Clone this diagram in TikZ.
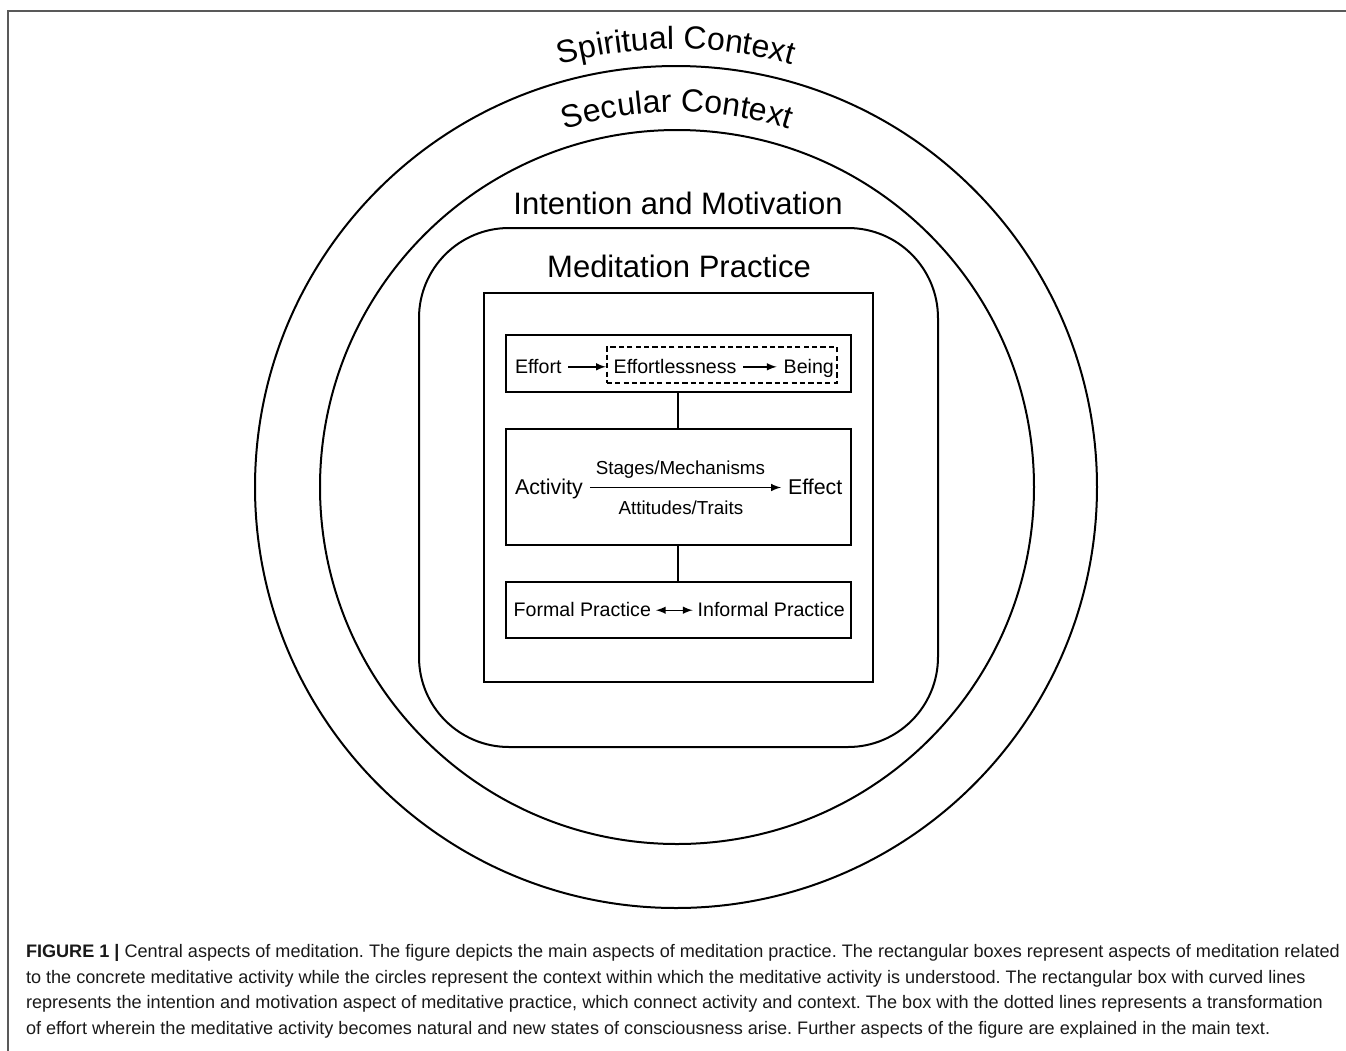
\documentclass[tikz,border=0pt]{standalone}
\usepackage{fontspec}
\setmainfont{Liberation Sans}
\usetikzlibrary{positioning}
\usetikzlibrary{arrows}
\usetikzlibrary{decorations.text}
\frenchspacing

\begin{document}
\begin{tikzpicture}[x=0.5pt, y=0.5pt, line width=1pt, >=latex,
    box/.style={draw, line width=0.9pt, minimum width=172.4pt, inner sep=0pt},
    dashbox/.style={draw, line width=0.8pt, dash pattern=on 2.6pt off 1.6pt, inner sep=0pt},
    word/.style={inner sep=3pt, text height=8.5pt, text depth=2pt, font=\fontsize{9.8}{11}\selectfont},
    small/.style={inner sep=0pt, font=\fontsize{9.4}{11}\selectfont},
    title/.style={inner sep=0pt, font=\fontsize{15.5}{18}\selectfont},
    capline/.style={anchor=base west, inner sep=0pt, text=black!90, font=\fontsize{9.05}{11}\selectfont},
    link/.style={->, line width=0.7pt}]
    \useasboundingbox (0,0) rectangle (1346,-1051);

    % Draw frame
    \draw[black!65, line width=1pt] (1346,-11) -- (8,-11) -- (8,-1051);

    % Draw context circles
    \draw (676,-487) circle (421);
    \draw (677,-487) circle (357);

    % Curved labels on the circles
    \path[decorate, decoration={text along path, text align=center,
        text={|\fontsize{16}{16}\selectfont|Spiritual Context}}]
        (676,-487) ++(150:438) arc (150:30:438);
    \path[decorate, decoration={text along path, text align=center,
        text={|\fontsize{16}{16}\selectfont|Secular Context}}]
        (677,-487) ++(150:375) arc (150:30:375);

    % Intention and motivation box
    \node[title] (intention) at (678,-203) {Intention and Motivation};
    \node[draw, rounded corners=45pt, minimum size=259.5pt] (motivation) at (678.5,-487.5) {};

    % Meditation practice box
    \node[title] (meditation) at (679,-266) {Meditation Practice};
    \node[draw, minimum size=194.5pt] (practice) at (678.5,-487.5) {};

    % Inner boxes
    \node[box, minimum height=28.35pt] (top) at (678.35,-363.35) {};
    \node[box, minimum height=57.85pt] (middle) at (678.35,-487.15) {};
    \node[box, minimum height=28.3pt] (bottom) at (678.35,-610) {};
    \draw[line width=0.9pt] (top) -- (middle);
    \draw[line width=0.9pt] (middle) -- (bottom);

    % Effort row
    \node[dashbox, minimum width=115pt, minimum height=18pt] (natural) at (721.7,-364.7) {};
    \node[word, anchor=base west] (effort) at (508,-373.3) {Effort};
    \node[word, anchor=base west] (effortless) at (606.7,-373.3) {Effortlessness};
    \node[word, anchor=base west] (being) at (776.7,-373.3) {Being};
    \draw[link] (effort.east) -- (effort.east -| natural.west);
    \draw[link] (effortless) -- (being);

    % Activity row
    \node[word, anchor=base west, font=\fontsize{10.7}{12}\selectfont] (activity) at (508,-494) {Activity};
    \node[word, anchor=base west, font=\fontsize{10.7}{12}\selectfont] (effect) at (781,-494) {Effect};
    \draw[link] (activity) -- (effect);
    \node[small, anchor=base] (stages) at (680.4,-474.3) {Stages/Mechanisms};
    \node[small, anchor=base] (attitudes) at (680.9,-514.3) {Attitudes/Traits};

    % Practice row
    \node[word, anchor=base west, inner sep=2pt] (formal) at (508.7,-616.7) {Formal Practice};
    \node[word, anchor=base west, inner sep=2pt] (informal) at (692.7,-616.7) {Informal Practice};
    \draw[link, <->] (formal) -- (informal);

    % Caption
    \node[capline] (cap1) at (25,-957) {\textbf{FIGURE 1 |} Central aspects of meditation. The figure depicts the main aspects of meditation practice. The rectangular boxes represent aspects of meditation related};
    \node[capline] (cap2) at (25,-983) {to the concrete meditative activity while the circles represent the context within which the meditative activity is understood. The rectangular box with curved lines};
    \node[capline] (cap3) at (25,-1008.5) {represents the intention and motivation aspect of meditative practice, which connect activity and context. The box with the dotted lines represents a transformation};
    \node[capline] (cap4) at (25,-1034) {of effort wherein the meditative activity becomes natural and new states of consciousness arise. Further aspects of the figure are explained in the main text.};

\end{tikzpicture}
\end{document}
